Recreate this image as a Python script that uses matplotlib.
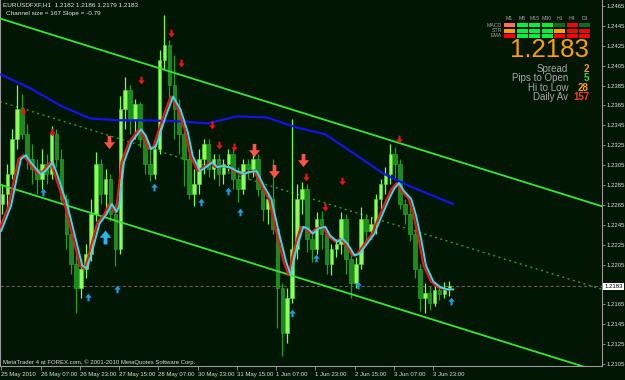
import numpy as np
import matplotlib
matplotlib.use("Agg")
import matplotlib.pyplot as plt
from matplotlib.path import Path
from matplotlib.patches import Rectangle
from matplotlib.ticker import FormatStrFormatter
from matplotlib.transforms import blended_transform_factory

W, H = 625, 380
BG = "#021604"

# --- velas (agregadas de a 2 barras H1) ---
open_ = [1.2266, 1.2276, 1.2296, 1.2331, 1.2361, 1.2336, 1.2311, 1.2301, 1.2291, 1.2306,
         1.2296, 1.2336, 1.2311, 1.2271, 1.2236, 1.2206, 1.2181, 1.2201, 1.2216, 1.2256,
         1.2306, 1.2276, 1.2291, 1.2256, 1.2221, 1.2361, 1.2381, 1.2351, 1.2366, 1.2331,
         1.2306, 1.2296, 1.2321, 1.2411, 1.2426, 1.2386, 1.2361, 1.2336, 1.2311, 1.2276,
         1.2286, 1.2311, 1.2326, 1.2301, 1.2311, 1.2296, 1.2306, 1.2316, 1.2291, 1.2281,
         1.2306, 1.2301, 1.2311, 1.2281, 1.2261, 1.2271, 1.2241, 1.2181, 1.2136, 1.2171,
         1.2221, 1.2271, 1.2281, 1.2231, 1.2221, 1.2251, 1.2236, 1.2206, 1.2221, 1.2226,
         1.2251, 1.2211, 1.2186, 1.2206, 1.2251, 1.2239, 1.2246, 1.2271, 1.2286, 1.2296,
         1.2316, 1.2306, 1.2266, 1.2256, 1.2236, 1.2201, 1.2171, 1.2176, 1.2166, 1.2179,
         1.2175, 1.2181]
close = [1.2276, 1.2296, 1.2331, 1.2361, 1.2336, 1.2311, 1.2301, 1.2291, 1.2306, 1.2296,
         1.2336, 1.2311, 1.2271, 1.2236, 1.2206, 1.2181, 1.2201, 1.2216, 1.2256, 1.2306,
         1.2276, 1.2291, 1.2256, 1.2221, 1.2361, 1.2381, 1.2351, 1.2366, 1.2331, 1.2306,
         1.2296, 1.2321, 1.2411, 1.2426, 1.2386, 1.2361, 1.2336, 1.2311, 1.2276, 1.2286,
         1.2311, 1.2326, 1.2301, 1.2311, 1.2296, 1.2306, 1.2316, 1.2291, 1.2281, 1.2306,
         1.2301, 1.2311, 1.2281, 1.2261, 1.2271, 1.2241, 1.2181, 1.2136, 1.2171, 1.2221,
         1.2271, 1.2281, 1.2231, 1.2221, 1.2251, 1.2236, 1.2206, 1.2221, 1.2226, 1.2251,
         1.2211, 1.2186, 1.2206, 1.2251, 1.2239, 1.2246, 1.2271, 1.2286, 1.2296, 1.2316,
         1.2306, 1.2266, 1.2256, 1.2236, 1.2201, 1.2171, 1.2176, 1.2166, 1.2179, 1.2175,
         1.2181, 1.2183]
high = [1.2286, 1.2306, 1.2341, 1.2386, 1.2376, 1.2346, 1.2326, 1.2311, 1.2321, 1.2316,
        1.2344, 1.2341, 1.2321, 1.2276, 1.2241, 1.2216, 1.2211, 1.2226, 1.2271, 1.2318,
        1.2311, 1.2301, 1.2296, 1.2266, 1.2374, 1.2394, 1.2386, 1.2371, 1.2368, 1.2336,
        1.2321, 1.2326, 1.2421, 1.2456, 1.2431, 1.2416, 1.2371, 1.2351, 1.2321, 1.2301,
        1.2321, 1.2331, 1.2331, 1.2316, 1.2316, 1.2311, 1.2321, 1.2321, 1.2303, 1.2311,
        1.2311, 1.2321, 1.2316, 1.2286, 1.2276, 1.2311, 1.2243, 1.2186, 1.2181, 1.2351,
        1.2286, 1.2288, 1.2286, 1.2236, 1.2258, 1.2259, 1.2241, 1.2226, 1.2231, 1.2258,
        1.2256, 1.2221, 1.2213, 1.2263, 1.2256, 1.2253, 1.2276, 1.2291, 1.2303, 1.2326,
        1.2323, 1.2311, 1.2271, 1.2268, 1.2241, 1.2206, 1.2186, 1.2183, 1.2183, 1.2183,
        1.2187, 1.2188]
low = [1.2256, 1.2261, 1.2291, 1.2321, 1.2331, 1.2301, 1.2286, 1.2276, 1.2281, 1.2286,
       1.2291, 1.2303, 1.2266, 1.2221, 1.2196, 1.2156, 1.2171, 1.2191, 1.2209, 1.2249,
       1.2266, 1.2256, 1.2249, 1.2204, 1.2216, 1.2341, 1.2336, 1.2331, 1.2323, 1.2296,
       1.2289, 1.2291, 1.2316, 1.2401, 1.2371, 1.2331, 1.2316, 1.2284, 1.2271, 1.2264,
       1.2276, 1.2296, 1.2293, 1.2291, 1.2284, 1.2286, 1.2299, 1.2281, 1.2268, 1.2276,
       1.2291, 1.2293, 1.2274, 1.2249, 1.2246, 1.2236, 1.2141, 1.2113, 1.2126, 1.2166,
       1.2211, 1.2256, 1.2218, 1.2208, 1.2216, 1.2221, 1.2196, 1.2194, 1.2213, 1.2216,
       1.2196, 1.2171, 1.2181, 1.2201, 1.2229, 1.2231, 1.2236, 1.2261, 1.2276, 1.2286,
       1.2291, 1.2261, 1.2246, 1.2229, 1.2191, 1.2158, 1.2156, 1.2159, 1.2163, 1.2169,
       1.2171, 1.2173]

# --- medias moviles (barra H1, precio) ---
ma_bars = [0, 4, 6, 8, 10, 12, 16, 18, 21, 23, 27, 30, 33, 35, 37, 40, 43, 45, 47, 48,
           50, 53, 57, 59, 61, 63, 67, 70, 73, 76, 78, 81, 84, 86, 88, 90, 93, 96, 99, 101,
           104, 107, 110, 113, 116, 118, 120, 123, 125, 127, 129, 132, 134, 137, 139, 141,
           144, 146, 149, 152, 155, 158, 160, 162, 164, 167, 169, 171, 173, 176, 179, 182, 184]
ma_fast = [1.2239, 1.2264, 1.2288, 1.2311, 1.2315, 1.2308, 1.2296, 1.2299, 1.2308, 1.2294,
           1.2264, 1.2234, 1.2204, 1.2201, 1.2218, 1.2246, 1.2256, 1.2266, 1.2258, 1.2264,
           1.2308, 1.2328, 1.2341, 1.2334, 1.2321, 1.2324, 1.2354, 1.2374, 1.2361, 1.2338,
           1.2314, 1.2299, 1.2304, 1.2308, 1.2303, 1.2304, 1.2303, 1.2299, 1.2296, 1.2298,
           1.2299, 1.2284, 1.2271, 1.2238, 1.2208, 1.2194, 1.2218, 1.2243, 1.2241, 1.2236,
           1.2241, 1.2243, 1.2234, 1.2228, 1.2231, 1.2226, 1.2214, 1.2216, 1.2226, 1.2236,
           1.2254, 1.2271, 1.2281, 1.2287, 1.2279, 1.2271, 1.2254, 1.2231, 1.2204, 1.2188,
           1.2182, 1.2180, 1.2180]
ma_slow_bars = [0, 12, 24, 36, 48, 60, 72, 84, 96, 108, 120, 132, 144, 156, 168, 184]
ma_slow = [1.2396, 1.2382, 1.2365, 1.2352, 1.2350, 1.2350, 1.2349, 1.2347, 1.2354, 1.2353,
           1.2343, 1.2336, 1.2316, 1.2296, 1.2282, 1.2266]

# --- canal de regresion ---
chan_top0 = 1.2452      # borde superior en la barra 0
chan_slope = -0.77      # pips por barra
chan_size = 167         # pips

# --- flechas de senal (barra, precio) ---
sell_bars = [8.9, 20.7, 56.9, 69.2, 73.2, 85.9, 88.7, 94.8, 124.2, 131.9, 138.8, 162.0]
sell_px = [1.2359, 1.2338, 1.2391, 1.2438, 1.2408, 1.2345, 1.2325, 1.2323, 1.2293, 1.2263, 1.2289, 1.2331]
sell_big_bars = [43.9, 103.0, 111.1, 122.9]
sell_big_px = [1.2328, 1.2320, 1.2299, 1.2310]
buy_bars = [17.0, 35.4, 47.2, 62.2, 81.4, 92.4, 97.3, 118.4, 128.2, 145.3, 183.2]
buy_px = [1.2278, 1.2172, 1.2180, 1.2283, 1.2268, 1.2279, 1.2258, 1.2156, 1.2212, 1.2184, 1.2168]
buy_big_bars = [42.3]
buy_big_px = [1.2233]

date_labels = ["25 May 2010", "26 May 07:00", "26 May 23:00", "27 May 15:00", "28 May 07:00",
               "30 May 23:00", "31 May 15:00", "1 Jun 07:00", "1 Jun 23:00", "2 Jun 15:00",
               "3 Jun 07:00", "3 Jun 23:00"]
price_ticks = [1.2105, 1.2125, 1.2145, 1.2165, 1.2205, 1.2225, 1.2245, 1.2265, 1.2285,
               1.2305, 1.2325, 1.2345, 1.2365, 1.2385, 1.2405, 1.2425, 1.2445, 1.2465]
last_price = 1.2183

# --- panel superior derecho ---
timeframes = ["M1", "M5", "M15", "M30", "H1", "H4", "D1"]
panel_rows = ["MACD", "STR", "EMA"]
macd_colors = ["#ff6f5c", "#00f03c", "#00f03c", "#00f03c", "#0e6b22", "#ff0000", "#0e6b22"]
str_colors = ["#ffa000", "#00f03c", "#00f03c", "#00f03c", "#ffa000", "#ff0000", "#ff0000"]
ema_colors = ["#ff0000", "#00f03c", "#00f03c", "#00f03c", "#ff0000", "#ff0000", "#ff0000"]
stat_labels = ["Spread", "Pips to Open", "Hi to Low", "Daily Av"]
stat_values = ["2", "5", "28", "157"]
stat_colors = ["#ff9a1a", "#33dd33", "#ff9a1a", "#ff3b2f"]

plt.rcParams["font.family"] = ["Liberation Sans", "DejaVu Sans"]

fig = plt.figure(figsize=(W / 100, H / 100), dpi=100, facecolor=BG)
ax = fig.add_axes([0, 14 / H, 602 / W, 366 / H], facecolor=BG)
ax.set_xlim(-0.5, 244.7)
ax.set_ylim(1.2103, 1.2471)


def fpos(x, y):
    """pixeles de pantalla -> fraccion de figura"""
    return x / W, 1 - y / H


o, c, hi, lo = map(np.array, (open_, close, high, low))
pos = np.arange(len(c)) * 2 + 0.5
up = c >= o
ax.vlines(pos, lo, hi, colors=np.where(up, "#7dff4a", "#23a023"), lw=0.9, zorder=2)
ax.bar(pos, np.maximum(np.abs(c - o), 0.00006), bottom=np.minimum(o, c), width=1.45,
       color=np.where(up, "#8aff5a", "#1d8a1d"), edgecolor=np.where(up, "#55e030", "#2fb02f"),
       lw=0.4, zorder=3)

# canal
xs = np.array(ax.get_xlim())
top = chan_top0 + chan_slope * xs / 1e4
ax.plot(xs, top, color="#35e635", lw=1.3, zorder=4)
ax.plot(xs, top - chan_size / 1e4, color="#35e635", lw=1.3, zorder=4)
ax.plot(xs, top - chan_size / 2e4, color="#2f9a2f", lw=1.0, ls=(0, (1.5, 2.5)), zorder=1)

ax.axhline(last_price, color="#6b5757", lw=0.8, ls=(0, (3, 2)), zorder=1)

ax.plot(ma_slow_bars, ma_slow, color="#1414e6", lw=1.6, zorder=4)
ax.plot(np.array(ma_bars) - 1, ma_fast, color="#ff1010", lw=1.5, zorder=5)
ax.plot(ma_bars, ma_fast, color="#2de0f0", lw=1.4, zorder=6)

arrow_v = [(-0.14, 0.5), (0.14, 0.5), (0.14, 0.02), (0.42, 0.02), (0, -0.5),
           (-0.42, 0.02), (-0.14, 0.02), (-0.14, 0.5)]
down = Path(arrow_v, closed=True)
upm = Path([(x, -y) for x, y in arrow_v], closed=True)
ax.plot(sell_bars, sell_px, ls="none", marker=down, ms=5.5, color="#f01414", mew=0, zorder=7)
ax.plot(sell_big_bars, sell_big_px, ls="none", marker=down, ms=9.5, color="#ff5444", mew=0, zorder=7)
ax.plot(buy_bars, buy_px, ls="none", marker=upm, ms=5.5, color="#1e9ee0", mew=0, zorder=7)
ax.plot(buy_big_bars, buy_big_px, ls="none", marker=upm, ms=10, color="#28b4e8", mew=0, zorder=7)

# ejes estilo MT4
ax.spines["top"].set_visible(False)
for s in ("left", "right", "bottom"):
    ax.spines[s].set_color("#9a9a9a")
    ax.spines[s].set_linewidth(0.8)
ax.yaxis.tick_right()
ax.set_yticks(price_ticks)
ax.yaxis.set_major_formatter(FormatStrFormatter("%.4f"))
ax.tick_params(axis="y", length=2, width=0.6, pad=1.5, colors="#9a9a9a",
               labelcolor="#dcdcdc", labelsize=4.3)
ax.set_xticks(np.arange(len(date_labels)) * 16)
ax.set_xticklabels(date_labels, ha="left")
ax.tick_params(axis="x", length=3, width=0.6, pad=1, colors="#9a9a9a",
               labelcolor="#dcdcdc", labelsize=4.3)

tr = blended_transform_factory(ax.transAxes, ax.transData)
ax.text(1.004, last_price, f"{last_price:.4f}", transform=tr, fontsize=4.3, color="black",
        va="center", ha="left", bbox=dict(fc="white", ec="none", pad=0.8), zorder=10)

# textos
fig.text(*fpos(3, 5), "EURUSDFXF,H1  1.2182 1.2186 1.2179 1.2183", fontsize=4.6,
         color="#e6e6e6", va="center")
fig.text(*fpos(6, 13), "Channel size = 167 Slope = -0.79", fontsize=4.6,
         color="#e6e6e6", va="center")
fig.text(*fpos(3, 362), "MetaTrader 4 at FOREX.com, \u00a9 2001-2010 MetaQuotes Software Corp.",
         fontsize=4.3, color="#dcdcdc", va="center")

for i, tf in enumerate(timeframes):
    fig.text(*fpos(509.5 + 12.5 * i, 18), tf, fontsize=3.8, color="#a0a0a0",
             ha="center", va="center")
for r, (name, cols) in enumerate(zip(panel_rows, (macd_colors, str_colors, ema_colors))):
    fig.text(*fpos(502, 25.3 + 5.3 * r), name, fontsize=3.8, color="#a0a0a0",
             ha="right", va="center")
    for i, col in enumerate(cols):
        x0, y0 = fpos(504 + 12.5 * i, 27.3 + 5.3 * r)
        fig.add_artist(Rectangle((x0, y0), 11 / W, 4 / H, transform=fig.transFigure,
                                 fc=col, ec="none"))

fig.text(*fpos(589, 50), f"{last_price:.4f}", fontsize=18.5, color="#ffa000",
         ha="right", va="center")
for k, (lab, val, col) in enumerate(zip(stat_labels, stat_values, stat_colors)):
    fig.text(*fpos(568, 69 + 9.4 * k), lab, fontsize=7, color="#a8a8a8", ha="right", va="center")
    fig.text(*fpos(589, 69 + 9.4 * k), val, fontsize=7, color=col, ha="right", va="center",
             fontweight="bold")

fig.savefig("out.png", dpi=100, facecolor=BG)
